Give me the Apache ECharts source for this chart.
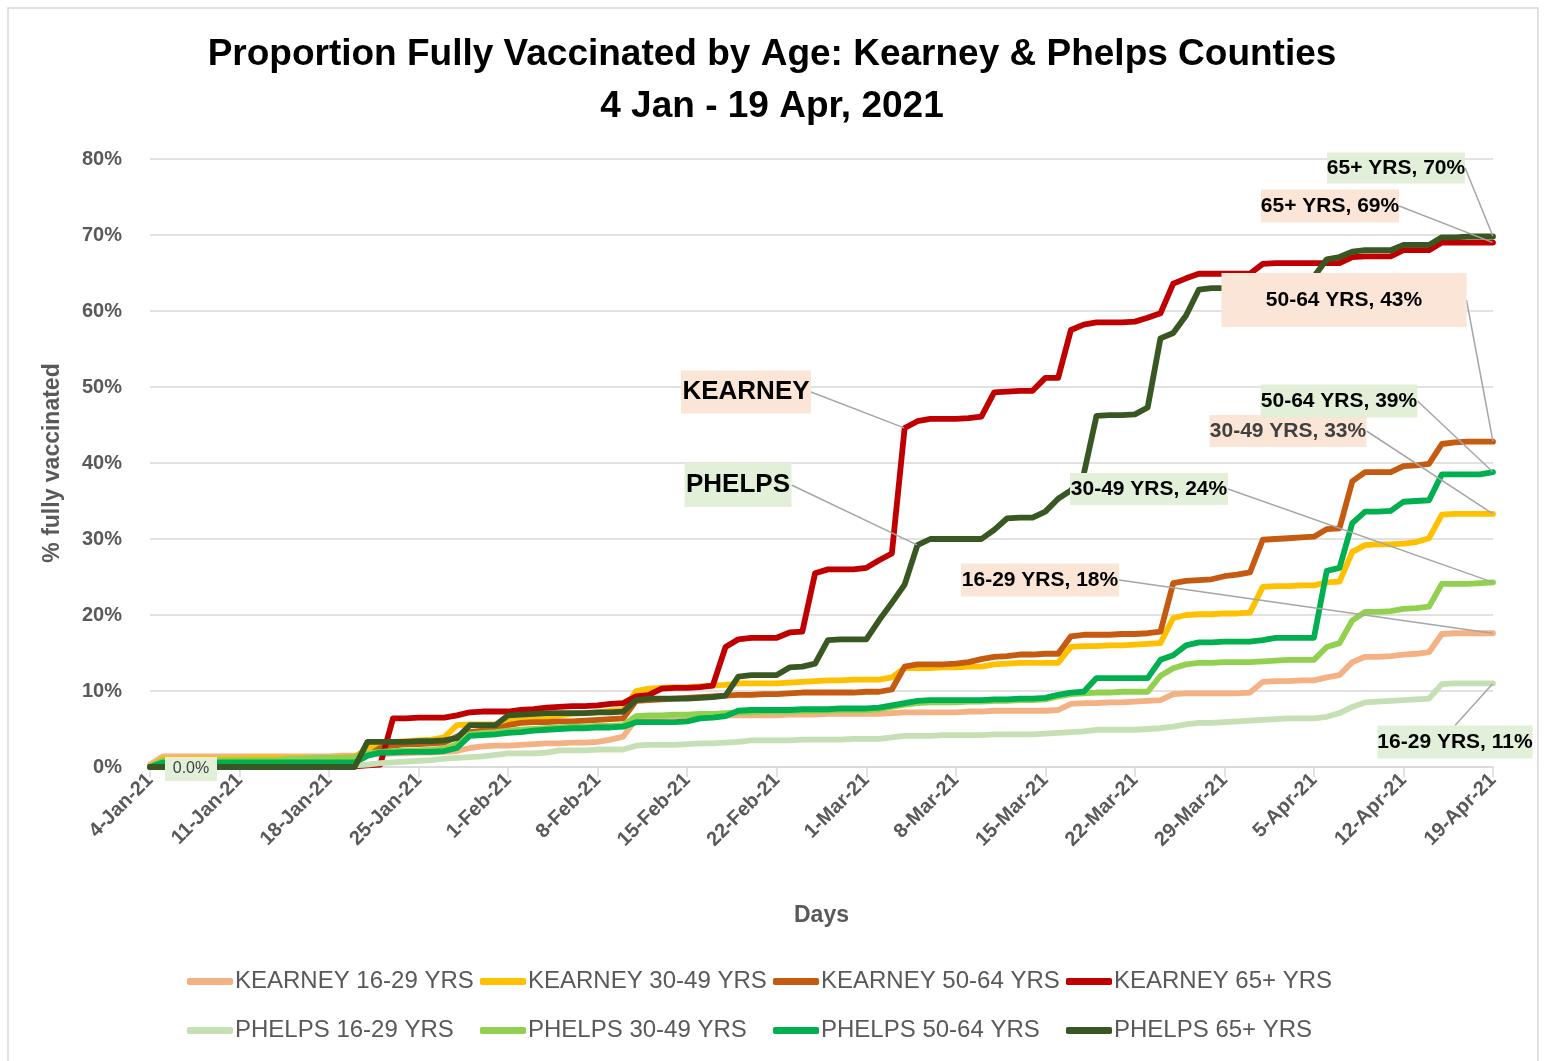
<!DOCTYPE html>
<html>
<head>
<meta charset="utf-8">
<script src="https://cdn.jsdelivr.net/npm/echarts@6/dist/echarts.min.js"></script>
<style>
  html, body { margin: 0; background: #fff; }
  #chart { width: 1544px; height: 1061px; }
</style>
</head>
<body>
<div id="chart"></div>
<script>
// daily values, 4 Jan .. 19 Apr 2021 (106 days), % fully vaccinated
const kearney16 = [
  0.3, 1.4, 1.4, 1.4, 1.4, 1.4, 1.4, 1.4, 1.4, 1.4,
  1.4, 1.4, 1.4, 1.4, 1.4, 1.5, 1.5, 1.6, 1.7, 1.8,
  1.8, 1.9, 1.9, 2.0, 2.1, 2.5, 2.7, 2.8, 2.8, 2.9,
  3.0, 3.1, 3.1, 3.2, 3.2, 3.3, 3.6, 4.0, 6.3, 6.5,
  6.6, 6.7, 6.7, 6.7, 6.7, 6.8, 6.8, 6.8, 6.8, 6.8,
  6.9, 6.9, 6.9, 7.0, 7.0, 7.0, 7.0, 7.0, 7.1, 7.2,
  7.2, 7.2, 7.2, 7.2, 7.3, 7.3, 7.4, 7.4, 7.4, 7.4,
  7.4, 7.5, 8.3, 8.4, 8.4, 8.5, 8.5, 8.6, 8.7, 8.8,
  9.6, 9.7, 9.7, 9.7, 9.7, 9.7, 9.8, 11.2, 11.3, 11.3,
  11.4, 11.4, 11.8, 12.1, 13.8, 14.5, 14.5, 14.6, 14.8, 14.9,
  15.1, 17.5, 17.6, 17.6, 17.6, 17.6
];
const kearney30 = [
  0, 1.1, 1.1, 1.1, 1.1, 1.1, 1.1, 1.1, 1.2, 1.2,
  1.2, 1.2, 1.2, 1.2, 1.2, 1.3, 1.3, 2.5, 3.2, 3.3,
  3.4, 3.5, 3.6, 3.9, 5.5, 5.6, 5.6, 5.6, 6.1, 6.3,
  6.4, 6.6, 6.8, 7.0, 7.1, 7.2, 7.4, 7.5, 10.0, 10.3,
  10.4, 10.5, 10.5, 10.6, 10.7, 10.8, 11.0, 11.0, 11.0, 11.0,
  11.1, 11.2, 11.3, 11.4, 11.4, 11.5, 11.5, 11.5, 11.8, 13.0,
  13.0, 13.0, 13.1, 13.1, 13.2, 13.2, 13.5, 13.6, 13.7, 13.7,
  13.7, 13.7, 15.8, 15.9, 15.9, 16.0, 16.0, 16.1, 16.2, 16.3,
  19.6, 20.0, 20.1, 20.1, 20.2, 20.2, 20.3, 23.7, 23.8, 23.8,
  23.9, 23.9, 24.3, 24.4, 28.3, 29.2, 29.3, 29.3, 29.4, 29.6,
  30.1, 33.2, 33.3, 33.3, 33.3, 33.3
];
const kearney50 = [
  0, 0.5, 0.5, 0.5, 0.5, 0.5, 0.5, 0.5, 0.5, 0.5,
  0.5, 0.5, 0.5, 0.6, 0.6, 0.6, 0.6, 1.5, 2.5, 2.8,
  3.0, 3.0, 3.1, 3.2, 4.0, 4.6, 4.8, 4.9, 5.5, 5.8,
  5.9, 5.9, 6.0, 6.0, 6.1, 6.2, 6.3, 6.4, 8.7, 8.8,
  8.9, 9.0, 9.1, 9.2, 9.3, 9.4, 9.5, 9.5, 9.6, 9.6,
  9.7, 9.8, 9.8, 9.8, 9.8, 9.8, 9.9, 9.9, 10.2, 13.2,
  13.5, 13.5, 13.5, 13.6, 13.8, 14.2, 14.5, 14.6, 14.8, 14.8,
  14.9, 14.9, 17.2, 17.4, 17.4, 17.4, 17.5, 17.5, 17.6, 17.8,
  24.2, 24.5, 24.6, 24.7, 25.1, 25.3, 25.6, 29.9, 30.0, 30.1,
  30.2, 30.3, 31.3, 31.4, 37.6, 38.8, 38.8, 38.8, 39.6, 39.7,
  39.9, 42.5, 42.7, 42.8, 42.8, 42.8
];
const kearney65 = [
  0, 0.1, 0.1, 0.1, 0.1, 0.1, 0.1, 0.1, 0.1, 0.1,
  0.1, 0.1, 0.1, 0.1, 0.1, 0.1, 0.1, 0.2, 0.3, 6.4,
  6.4, 6.5, 6.5, 6.5, 6.8, 7.2, 7.3, 7.3, 7.3, 7.5,
  7.6, 7.8, 7.9, 8.0, 8.0, 8.1, 8.3, 8.4, 9.3, 9.5,
  10.3, 10.4, 10.4, 10.5, 10.7, 15.8, 16.8, 17.0, 17.0, 17.0,
  17.7, 17.8, 25.5, 26.0, 26.0, 26.0, 26.2, 27.2, 28.1, 44.6,
  45.5, 45.8, 45.8, 45.8, 45.9, 46.1, 49.3, 49.4, 49.5, 49.5,
  51.2, 51.2, 57.5, 58.2, 58.5, 58.5, 58.5, 58.6, 59.1, 59.7,
  63.6, 64.3, 64.9, 64.9, 64.9, 64.9, 64.9, 66.2, 66.3, 66.3,
  66.3, 66.3, 66.3, 66.3, 67.1, 67.2, 67.2, 67.2, 68.0, 68.0,
  68.0, 69.0, 69.0, 69.0, 69.0, 69.0
];
const phelps16 = [
  0, 0.2, 0.2, 0.2, 0.2, 0.2, 0.2, 0.2, 0.2, 0.2,
  0.2, 0.2, 0.2, 0.2, 0.2, 0.2, 0.2, 0.3, 0.5, 0.6,
  0.7, 0.8, 0.9, 1.1, 1.2, 1.3, 1.4, 1.6, 1.8, 1.8,
  1.8, 1.9, 2.2, 2.2, 2.2, 2.3, 2.3, 2.3, 2.8, 2.9,
  2.9, 2.9, 3.0, 3.1, 3.1, 3.2, 3.3, 3.5, 3.5, 3.5,
  3.5, 3.6, 3.6, 3.6, 3.6, 3.7, 3.7, 3.7, 3.9, 4.1,
  4.1, 4.1, 4.2, 4.2, 4.2, 4.2, 4.3, 4.3, 4.3, 4.3,
  4.4, 4.5, 4.6, 4.7, 4.9, 4.9, 4.9, 4.9, 5.0, 5.1,
  5.3, 5.6, 5.8, 5.8, 5.9, 6.0, 6.1, 6.2, 6.3, 6.4,
  6.4, 6.4, 6.6, 7.1, 7.9, 8.5, 8.6, 8.7, 8.8, 8.9,
  9.0, 10.9, 11.0, 11.0, 11.0, 11.0
];
const phelps30 = [
  0, 0.9, 0.9, 0.9, 0.9, 0.9, 0.9, 0.9, 0.9, 0.9,
  0.9, 1.1, 1.1, 1.2, 1.2, 1.2, 1.3, 1.8, 2.0, 2.1,
  2.2, 2.2, 2.3, 2.4, 3.0, 4.3, 4.5, 4.6, 4.8, 4.9,
  5.0, 5.1, 5.2, 5.3, 5.3, 5.4, 5.4, 5.5, 6.7, 6.8,
  6.8, 6.9, 6.9, 7.0, 7.0, 7.1, 7.2, 7.2, 7.3, 7.3,
  7.3, 7.4, 7.4, 7.4, 7.5, 7.5, 7.5, 7.6, 7.9, 8.2,
  8.4, 8.5, 8.5, 8.5, 8.6, 8.6, 8.7, 8.7, 8.8, 8.8,
  8.9, 9.3, 9.6, 9.7, 9.8, 9.8, 9.9, 9.9, 9.9, 12.0,
  13.0, 13.5, 13.7, 13.7, 13.8, 13.8, 13.8, 13.9, 14.0, 14.1,
  14.1, 14.1, 15.8, 16.3, 19.3, 20.4, 20.4, 20.5, 20.8, 20.9,
  21.1, 24.1, 24.1, 24.1, 24.2, 24.3
];
const phelps50 = [
  0, 0.6, 0.6, 0.6, 0.6, 0.6, 0.6, 0.6, 0.6, 0.6,
  0.6, 0.6, 0.6, 0.6, 0.6, 0.6, 0.6, 1.5, 1.9, 1.9,
  2.0, 2.0, 2.0, 2.1, 2.5, 4.1, 4.2, 4.3, 4.5, 4.6,
  4.8, 4.9, 5.0, 5.1, 5.1, 5.2, 5.2, 5.3, 5.9, 5.9,
  5.9, 5.9, 6.0, 6.4, 6.5, 6.7, 7.4, 7.5, 7.5, 7.5,
  7.5, 7.6, 7.6, 7.6, 7.7, 7.7, 7.7, 7.8, 8.1, 8.4,
  8.7, 8.8, 8.8, 8.8, 8.8, 8.8, 8.9, 8.9, 9.0, 9.0,
  9.1, 9.5, 9.8, 9.9, 11.7, 11.7, 11.7, 11.7, 11.7, 14.1,
  14.7, 16.0, 16.4, 16.4, 16.5, 16.5, 16.5, 16.7, 17.0, 17.0,
  17.0, 17.0, 25.8, 26.2, 32.1, 33.6, 33.6, 33.7, 34.9, 35.0,
  35.1, 38.5, 38.5, 38.5, 38.5, 38.8
];
const phelps65 = [
  0, 0, 0, 0, 0, 0, 0, 0, 0, 0,
  0, 0, 0, 0, 0, 0, 0, 3.3, 3.3, 3.3,
  3.3, 3.4, 3.4, 3.5, 3.8, 5.5, 5.5, 5.5, 6.8, 6.9,
  7.0, 7.1, 7.1, 7.1, 7.1, 7.2, 7.2, 7.3, 8.8, 9.0,
  9.0, 9.0, 9.0, 9.1, 9.2, 9.4, 11.9, 12.1, 12.1, 12.1,
  13.1, 13.2, 13.6, 16.7, 16.8, 16.8, 16.8, 19.3, 21.6, 24.0,
  29.2, 30.0, 30.0, 30.0, 30.0, 30.0, 31.2, 32.7, 32.8, 32.8,
  33.6, 35.3, 36.4, 38.5, 46.2, 46.3, 46.3, 46.4, 47.3, 56.4,
  57.1, 59.4, 62.8, 63.0, 63.0, 63.0, 63.0, 63.1, 63.1, 63.2,
  63.2, 64.5, 66.8, 67.1, 67.8, 68.0, 68.0, 68.0, 68.7, 68.7,
  68.7, 69.7, 69.7, 69.8, 69.8, 69.8
];

const MONTHS = ['Jan', 'Feb', 'Mar', 'Apr', 'May', 'Jun', 'Jul', 'Aug', 'Sep', 'Oct', 'Nov', 'Dec'];
const days = [];
for (let i = 0; i < kearney65.length; i++) {
  const d = new Date(Date.UTC(2021, 0, 4 + i));
  days.push(d.getUTCDate() + '-' + MONTHS[d.getUTCMonth()] + '-21');
}

const seriesNames = [
  'KEARNEY 16-29 YRS', 'KEARNEY 30-49 YRS', 'KEARNEY 50-64 YRS', 'KEARNEY 65+ YRS',
  'PHELPS 16-29 YRS', 'PHELPS 30-49 YRS', 'PHELPS 50-64 YRS', 'PHELPS 65+ YRS'
];
const seriesValues = [kearney16, kearney30, kearney50, kearney65, phelps16, phelps30, phelps50, phelps65];
const seriesColors = ['#F4B183', '#FFC000', '#C55A11', '#C00000', '#C5E0B4', '#92D050', '#00B050', '#385723'];

const PEACH = '#FBE5D6', MINT = '#E2F0D9';
// callout labels: which series / day they point at, and where the box sits
const notes = [
  { s: 7, i: 105, text: '65+ YRS, 70%', x: 1396, y: 168, w: 138, h: 31, bg: MINT },
  { s: 3, i: 105, text: '65+ YRS, 69%', x: 1330, y: 206, w: 138, h: 33, bg: PEACH },
  { s: 2, i: 105, text: '50-64 YRS, 43%', x: 1344, y: 300, w: 245, h: 54, bg: PEACH },
  { s: 6, i: 105, text: '50-64 YRS, 39%', x: 1339, y: 401, w: 157, h: 33, bg: MINT },
  { s: 1, i: 105, text: '30-49 YRS, 33%', x: 1288, y: 431, w: 157, h: 32, bg: PEACH, color: '#404040' },
  { s: 5, i: 105, text: '30-49 YRS, 24%', x: 1149, y: 489, w: 158, h: 32, bg: MINT },
  { s: 0, i: 105, text: '16-29 YRS, 18%', x: 1040, y: 580, w: 158, h: 33, bg: PEACH },
  { s: 4, i: 105, text: '16-29 YRS, 11%', x: 1455, y: 742, w: 155, h: 33, bg: MINT },
  { s: 3, i: 59, text: 'KEARNEY', x: 746, y: 392, w: 130, h: 43, bg: PEACH, fs: 26 },
  { s: 7, i: 60, text: 'PHELPS', x: 738, y: 485, w: 107, h: 44, bg: MINT, fs: 26 },
  { s: 7, i: 0, text: '0.0%', x: 191, y: 769, w: 52, h: 24, bg: MINT, fs: 16, fw: 'normal', color: '#404040', noLine: true }
];
const findNote = (s, i) => notes.find(n => n.s === s && n.i === i);

const FONT = "'Liberation Sans', Arial, sans-serif";
const NARROW = "'Liberation Sans Narrow', 'Liberation Sans', sans-serif";

const series = seriesNames.map((name, s) => ({
  name: name,
  type: 'line',
  symbol: 'none',
  showSymbol: true,
  showAllSymbol: true,
  z: 2,
  lineStyle: { width: 5.8, color: seriesColors[s], cap: 'round', join: 'round' },
  itemStyle: { color: seriesColors[s] },
  emphasis: { disabled: true },
  data: seriesValues[s].map((v, i) => {
    const n = findNote(s, i);
    if (!n) return v;
    return {
      value: v,
      symbol: 'circle',
      symbolSize: 1,
      label: {
        show: true,
        formatter: n.text,
        backgroundColor: n.bg,
        width: n.w,
        height: n.h,
        lineHeight: n.h,
        align: 'center',
        verticalAlign: 'middle',
        padding: 0,
        fontFamily: NARROW,
        fontSize: n.fs || 21,
        fontWeight: n.fw || 'bold',
        color: n.color || '#000'
      },
      labelLine: {
        show: !n.noLine,
        lineStyle: { color: '#A6A6A6', width: 1.5 }
      }
    };
  }),
  labelLayout: function (p) {
    const n = findNote(p.seriesIndex, p.dataIndex);
    if (!n) return {};
    return { x: n.x, y: n.y, align: 'center', verticalAlign: 'middle' };
  }
}));

const chart = echarts.init(document.getElementById('chart'));
chart.setOption({
  animation: false,
  backgroundColor: '#fff',
  title: {
    text: 'Proportion Fully Vaccinated by Age: Kearney & Phelps Counties\n4 Jan - 19 Apr, 2021',
    left: 'center',
    top: 24,
    textStyle: { fontFamily: FONT, fontSize: 37, fontWeight: 'bold', color: '#000', lineHeight: 52 }
  },
  graphic: [{
    type: 'rect',
    shape: { x: 8, y: 8, width: 1530, height: 1070 },
    style: { fill: 'none', stroke: '#D9D9D9', lineWidth: 1.5 },
    silent: true
  }],
  legend: {
    data: seriesNames,
    left: 182,
    top: 952,
    width: 1200,
    itemGap: 0,
    itemWidth: 46,
    itemHeight: 7,
    icon: 'roundRect',
    textStyle: { fontFamily: NARROW, fontSize: 24, color: '#595959', width: 245, lineHeight: 49, padding: [0, 0, 0, -3] }
  },
  grid: { left: 150, right: 51, top: 159, bottom: 294 },
  xAxis: {
    type: 'category',
    data: days,
    boundaryGap: false,
    name: 'Days',
    nameLocation: 'middle',
    nameGap: 137,
    nameTextStyle: { fontFamily: FONT, fontSize: 23, fontWeight: 'bold', color: '#595959' },
    axisLine: { lineStyle: { color: '#D9D9D9', width: 1.5 } },
    axisTick: { interval: 6, length: 10, lineStyle: { color: '#D9D9D9', width: 1.5 } },
    axisLabel: {
      interval: 6,
      rotate: 45,
      margin: 10,
      fontFamily: FONT,
      fontSize: 20,
      fontWeight: 'bold',
      color: '#595959'
    },
    splitLine: { show: false }
  },
  yAxis: {
    type: 'value',
    min: 0,
    max: 80,
    interval: 10,
    name: '% fully vaccinated',
    nameLocation: 'middle',
    nameRotate: 90,
    nameGap: 86,
    nameTextStyle: { fontFamily: FONT, fontSize: 23, fontWeight: 'bold', color: '#595959' },
    axisLine: { show: false },
    axisTick: { show: false },
    axisLabel: {
      formatter: '{value}%',
      margin: 28,
      fontFamily: FONT,
      fontSize: 20,
      fontWeight: 'bold',
      color: '#595959'
    },
    splitLine: { lineStyle: { color: '#D9D9D9', width: 1.5 } }
  },
  series: series
});
</script>
</body>
</html>
